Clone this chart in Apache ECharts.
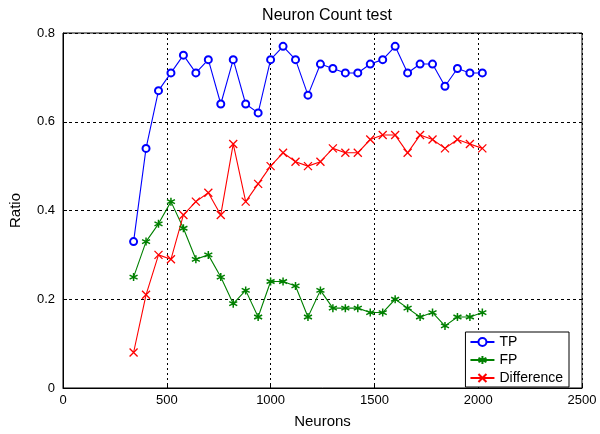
<!DOCTYPE html>
<html>
<head>
<meta charset="utf-8">
<script src="https://cdn.jsdelivr.net/npm/echarts@6/dist/echarts.min.js"></script>
<style>
  html, body { margin: 0; padding: 0; background: #fff; }
  #chart { width: 600px; height: 434px; }
</style>
</head>
<body>
<div id="chart"></div>
<script>
// 数据
var neurons = [340, 400, 460, 520, 580, 640, 700, 760, 820, 880, 940, 1000, 1060, 1120, 1180,
  1240, 1300, 1360, 1420, 1480, 1540, 1600, 1660, 1720, 1780, 1840, 1900, 1960, 2020];
var tp = [0.33, 0.54, 0.67, 0.71, 0.75, 0.71, 0.74, 0.64, 0.74, 0.64, 0.62, 0.74, 0.77, 0.74, 0.66,
  0.73, 0.72, 0.71, 0.71, 0.73, 0.74, 0.77, 0.71, 0.73, 0.73, 0.68, 0.72, 0.71, 0.71];
var fp = [0.25, 0.33, 0.37, 0.42, 0.36, 0.29, 0.30, 0.25, 0.19, 0.22, 0.16, 0.24, 0.24, 0.23, 0.16,
  0.22, 0.18, 0.18, 0.18, 0.17, 0.17, 0.20, 0.18, 0.16, 0.17, 0.14, 0.16, 0.16, 0.17];
var diff = [0.08, 0.21, 0.30, 0.29, 0.39, 0.42, 0.44, 0.39, 0.55, 0.42, 0.46, 0.50, 0.53, 0.51, 0.50,
  0.51, 0.54, 0.53, 0.53, 0.56, 0.57, 0.57, 0.53, 0.57, 0.56, 0.54, 0.56, 0.55, 0.54];

function pairs(ys) {
  return neurons.map(function (x, i) { return [x, ys[i]]; });
}

var font = 'Liberation Sans, Arial, sans-serif';
var starPath = 'path://M0,-5L0,5M-4.33,-2.5L4.33,2.5M-4.33,2.5L4.33,-2.5';
var crossPath = 'path://M-4,-4L4,4M-4,4L4,-4';

var chart = echarts.init(document.getElementById('chart'));

var option = {
  animation: false,
  textStyle: { fontFamily: font },
  title: {
    text: 'Neuron Count test',
    left: 322, top: 3, textAlign: 'center',
    textStyle: { fontSize: 16, fontWeight: 'normal', color: '#000', fontFamily: font }
  },
  grid: {
    left: 63, right: 18, top: 33, bottom: 43,
    show: true, borderColor: '#000', borderWidth: 1
  },
  legend: {
    orient: 'vertical',
    right: 31, bottom: 47,
    backgroundColor: '#fff',
    borderColor: '#000', borderWidth: 1, borderRadius: 0,
    padding: [3, 6, 2, 4],
    itemGap: 4, itemWidth: 24, itemHeight: 10,
    textStyle: { fontSize: 14, color: '#000', fontFamily: font },
    data: ['TP', 'FP', 'Difference']
  },
  xAxis: {
    type: 'value', min: 0, max: 2500, interval: 500,
    name: 'Neurons', nameLocation: 'middle', nameGap: 26,
    nameTextStyle: { fontSize: 15, color: '#000' },
    axisLine: { lineStyle: { color: '#000' } },
    axisTick: { inside: true, length: 4, lineStyle: { color: '#000' } },
    axisLabel: { fontSize: 13, color: '#000', margin: 6, formatter: function (v) { return String(v); } },
    splitLine: { show: true, lineStyle: { color: '#000', type: [2, 3], width: 1 } }
  },
  yAxis: {
    type: 'value', min: 0, max: 0.8, interval: 0.2,
    name: 'Ratio', nameLocation: 'middle', nameGap: 40,
    nameTextStyle: { fontSize: 15, color: '#000' },
    axisLine: { show: true, lineStyle: { color: '#000' } },
    axisTick: { show: true, inside: true, length: 4, lineStyle: { color: '#000' } },
    axisLabel: { fontSize: 13, color: '#000', margin: 8 },
    splitLine: { show: true, lineStyle: { color: '#000', type: [3, 3], width: 1 } }
  },
  series: [
    {
      name: 'TP', type: 'line', data: pairs(tp),
      color: '#0000ff',
      symbol: 'emptyCircle', symbolSize: 7, showAllSymbol: true,
      lineStyle: { width: 1.1 },
      itemStyle: { color: '#0000ff', borderWidth: 1 }
    },
    {
      name: 'FP', type: 'line', data: pairs(fp),
      color: '#008000',
      symbol: starPath, symbolSize: 8, showAllSymbol: true,
      lineStyle: { width: 1.1 },
      itemStyle: { color: '#008000', borderColor: '#008000', borderWidth: 1.5 }
    },
    {
      name: 'Difference', type: 'line', data: pairs(diff),
      color: '#ff0000',
      symbol: crossPath, symbolSize: 8, showAllSymbol: true,
      lineStyle: { width: 1.1 },
      itemStyle: { color: '#ff0000', borderColor: '#ff0000', borderWidth: 1.3 }
    }
  ]
};

chart.setOption(option);
</script>
</body>
</html>
